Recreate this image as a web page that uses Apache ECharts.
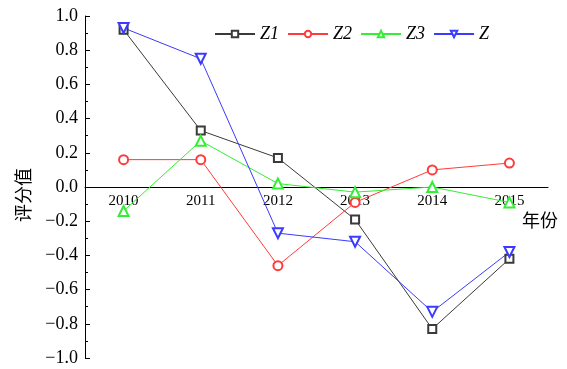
<!DOCTYPE html>
<html>
<head>
<meta charset="utf-8">
<script src="https://cdn.jsdelivr.net/npm/echarts@6/dist/echarts.min.js"></script>
<style>
  html, body { margin: 0; padding: 0; background: #fff; }
  #chart { width: 567px; height: 369px; }
</style>
</head>
<body>
<div id="chart"></div>
<script>
const years = ['2010', '2011', '2012', '2013', '2014', '2015']
const z1 = [0.92, 0.33, 0.17, -0.19, -0.83, -0.42]
const z2 = [0.16, 0.16, -0.46, -0.09, 0.10, 0.14]
const z3 = [-0.14, 0.27, 0.02, -0.03, 0.00, -0.09]
const z = [0.93, 0.75, -0.27, -0.32, -0.73, -0.38]

const serif = '"Liberation Serif", "DejaVu Serif", serif'
const cjk = '"Noto Sans CJK SC", sans-serif'

const chart = echarts.init(document.getElementById('chart'))

// grid: top 16, bottom edge at 358 -> x axis moved up to the zero line
const gridTop = 16
const gridBottom = 11
const zeroOffset = -(369 - gridBottom - gridTop) / 2

const makeSeries = (name, data, color, symbol, size, rotate) => ({
  name,
  type: 'line',
  data,
  symbol,
  symbolSize: size,
  symbolRotate: rotate || 0,
  lineStyle: { color, width: 1 },
  itemStyle: { color, borderWidth: 1.2 },
  z: 3
})

const option = {
  animation: false,
  backgroundColor: '#fff',
  grid: {
    left: 85,
    right: 19,
    top: gridTop,
    bottom: gridBottom,
    containLabel: false,
    outerBoundsMode: 'none'
  },
  legend: {
    left: 209,
    top: 20,
    itemWidth: 40,
    itemHeight: 8,
    itemGap: 8,
    textStyle: { fontFamily: serif, fontStyle: 'italic', fontSize: 18, color: '#000' },
    data: ['Z1', 'Z2', 'Z3', 'Z']
  },
  xAxis: {
    type: 'category',
    data: years,
    boundaryGap: true,
    offset: zeroOffset,
    name: '年份',
    nameLocation: 'end',
    nameGap: -26,
    nameTextStyle: {
      fontFamily: cjk,
      fontSize: 18,
      color: '#000',
      verticalAlign: 'top',
      padding: [24, 0, 0, 0]
    },
    axisLine: { onZero: false, lineStyle: { color: '#000', width: 1 } },
    axisTick: { alignWithLabel: true, inside: true, length: 5, lineStyle: { color: '#000' } },
    axisLabel: { fontFamily: serif, fontSize: 15, color: '#000', margin: 7 }
  },
  yAxis: {
    type: 'value',
    min: -1,
    max: 1,
    interval: 0.2,
    name: '评分值',
    nameLocation: 'middle',
    nameGap: 53,
    nameTextStyle: { fontFamily: cjk, fontSize: 18, color: '#000', padding: [0, 16, 0, 0] },
    axisLine: { show: true, lineStyle: { color: '#000', width: 1 } },
    axisTick: { show: true, inside: true, length: 5, lineStyle: { color: '#000' } },
    minorTick: { show: true, splitNumber: 2, length: 3, lineStyle: { color: '#000' } },
    splitLine: { show: false },
    axisLabel: {
      fontFamily: serif,
      fontSize: 18,
      color: '#000',
      margin: 7,
      formatter: v => (v < 0 ? '\u2212' : '') + Math.abs(v).toFixed(1)
    }
  },
  series: [
    makeSeries('Z1', z1, '#3a3a3a', 'emptyRect', 8),
    makeSeries('Z2', z2, '#ff3b3b', 'emptyCircle', 9),
    makeSeries('Z3', z3, '#33ee33', 'emptyTriangle', 10),
    makeSeries('Z', z, '#3b3bff', 'emptyTriangle', 10, 180)
  ]
}

chart.setOption(option)
</script>
</body>
</html>
